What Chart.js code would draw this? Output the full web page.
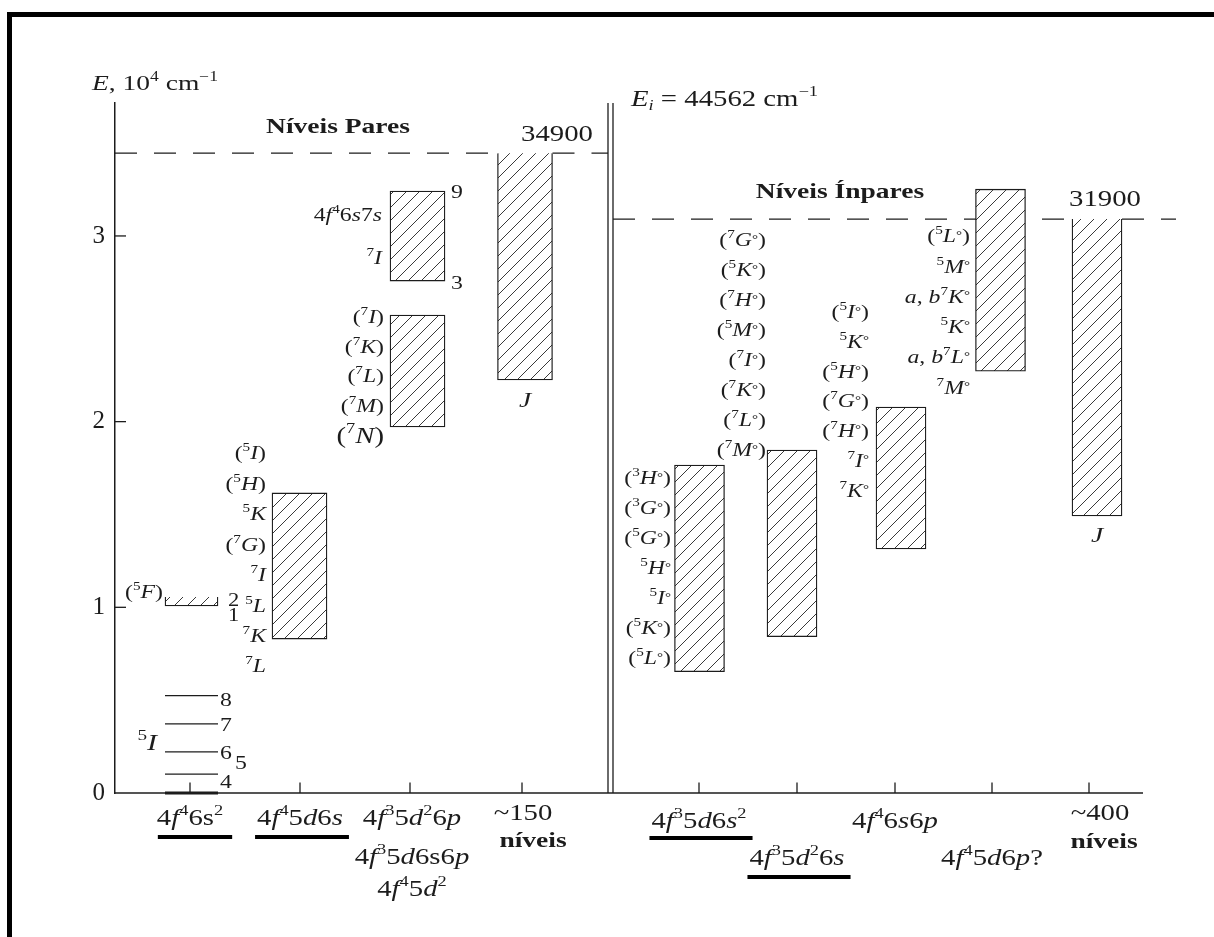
<!DOCTYPE html>
<html>
<head>
<meta charset="utf-8">
<title>Níveis de energia</title>
<script src="https://cdn.jsdelivr.net/npm/chart.js@4.4.1/dist/chart.umd.min.js"></script>
<style>
  html, body { margin: 0; padding: 0; background: #fff; }
  #wrap { width: 1214px; height: 937px; position: relative; }
</style>
</head>
<body>
<div id="wrap"><canvas id="chart"></canvas></div>
<script>
// energias em 10^4 cm^-1
const yTicks = [0, 1, 2, 3];
const tickPares = [0.75, 1.85, 2.95, 4.07];
const tickImpares = [5.84, 6.82, 7.80, 8.77, 9.74];
const limitePares = 3.446;   // 34900
const limiteImpares = 3.091; // 31900

// termo fundamental 5I (J = 4..8) e banda 5F
const niveis5I = [0, 0.102, 0.221, 0.372, 0.524];
const J5I = ['4', '5', '6', '7', '8'];
const vao5I = [0.50, 1.03];
const banda5F = [1.007, 1.055];

// caixas hachuradas: posição, energia mínima e máxima
const caixaXPares = [1.845, 3.025, 3.025, 4.10];
const caixaMinPares = [0.829, 2.757, 1.971, 2.224];
const caixaMaxPares = [1.616, 3.242, 2.574, 3.446];
const caixaXImpares = [5.845, 6.77, 7.86, 8.855, 9.82];
const caixaMinImpares = [0.653, 0.842, 1.314, 2.272, 1.492];
const caixaMaxImpares = [1.766, 1.847, 2.079, 3.252, 3.091];

// configurações (abaixo do eixo)
const configPares = [['4|f|^4^6s^2^'], ['4|f|^4^5|d|6|s|'],
  ['4|f|^3^5|d|^2^6|p|', '4|f|^3^5|d|6s6|p|', '4|f|^4^5|d|^2^'], ['~150', 'níveis']];
const configImpares = [['4|f|^3^5|d|6|s|^2^'], ['4|f|^3^5|d|^2^6|s|'], ['4|f|^4^6|s|6|p|'],
  ['4|f|^4^5|d|6|p|?'], ['~400', 'níveis']];

// termos escritos ao lado das caixas
const termosCol2 = ['(^5^|I|)', '(^5^|H|)', '^5^|K|', '(^7^|G|)', '^7^|I|', '^5^|L|', '^7^|K|', '^7^|L|'];
const termos6s7s = ['4|f|^4^6|s|7|s|', '^7^|I|'];
const J6s7s = ['9', '3'];
const termosCol3 = ['(^7^|I|)', '(^7^|K|)', '(^7^|L|)', '(^7^|M|)', '(^7^|N|)'];
const termosR1 = ['(^3^|H|^°^)', '(^3^|G|^°^)', '(^5^|G|^°^)', '^5^|H|^°^', '^5^|I|^°^', '(^5^|K|^°^)', '(^5^|L|^°^)'];
const termosR2 = ['(^7^|G|^°^)', '(^5^|K|^°^)', '(^7^|H|^°^)', '(^5^|M|^°^)', '(^7^|I|^°^)', '(^7^|K|^°^)', '(^7^|L|^°^)', '(^7^|M|^°^)'];
const termosR3 = ['(^5^|I|^°^)', '^5^|K|^°^', '(^5^|H|^°^)', '(^7^|G|^°^)', '(^7^|H|^°^)', '^7^|I|^°^', '^7^|K|^°^'];
const termosR4 = ['(^5^|L|^°^)', '^5^|M|^°^', '|a|, |b|^7^|K|^°^', '^5^|K|^°^', '|a|, |b|^7^|L|^°^', '^7^|M|^°^'];

const INK = '#1c1c1c';
const SX = 1.25; // o texto da figura é levemente esticado na horizontal
const FONT = '"Liberation Serif", "Times New Roman", serif';
const LARG_PARES = 55, LARG_IMPARES = 50; // largura das caixas, px
const PX_UNID = 100; // px por unidade no eixo x (1061 px / 10.61)

function hachura() {
  const s = 13;
  const c = document.createElement('canvas');
  c.width = s; c.height = s;
  const g = c.getContext('2d');
  g.fillStyle = '#fff';
  g.fillRect(0, 0, s, s);
  g.strokeStyle = '#3a3a3a';
  g.lineWidth = 1;
  g.beginPath();
  g.moveTo(-2, s + 2); g.lineTo(s + 2, -2);
  g.moveTo(-2, 2); g.lineTo(2, -2);
  g.moveTo(s - 2, s + 2); g.lineTo(s + 2, s - 2);
  g.stroke();
  return g.createPattern(c, 'repeat');
}
const HATCH = hachura();

// ^sobrescrito^  _subscrito_  |itálico|
function parseRich(str) {
  const runs = [];
  let sup = false, sub = false, it = false, buf = '';
  const push = () => { if (buf) runs.push({ t: buf, sup, sub, it }); buf = ''; };
  for (const ch of str) {
    if (ch === '^') { push(); sup = !sup; }
    else if (ch === '_') { push(); sub = !sub; }
    else if (ch === '|') { push(); it = !it; }
    else buf += ch;
  }
  push();
  return runs;
}

function drawRich(ctx, str, x, y, size, align, bold) {
  const runs = parseRich(str);
  const fontOf = r => (r.it ? 'italic ' : '') + (bold ? 'bold ' : '') +
    ((r.sup || r.sub) ? size * 0.64 : size) + 'px ' + FONT;
  let w = 0;
  for (const r of runs) { ctx.font = fontOf(r); r.w = ctx.measureText(r.t).width; w += r.w; }
  ctx.save();
  ctx.translate(x, y + size * 0.33);
  ctx.scale(SX, 1);
  ctx.fillStyle = INK;
  ctx.textBaseline = 'alphabetic';
  ctx.textAlign = 'left';
  let cx = align === 'right' ? -w : align === 'center' ? -w / 2 : 0;
  for (const r of runs) {
    ctx.font = fontOf(r);
    let dy = 0;
    if (r.sup) dy = r.t === '°' ? -size * 0.2 : -size * 0.42;
    if (r.sub) dy = size * 0.2;
    ctx.fillText(r.t, cx, dy);
    cx += r.w;
  }
  ctx.restore();
  return w * SX;
}

function seg(x0, y0, x1, y1, extra) {
  return Object.assign({
    type: 'line',
    data: [{ x: x0, y: y0 }, { x: x1, y: y1 }],
    borderColor: INK, borderWidth: 1.3,
    pointRadius: 0, fill: false, clip: false, order: 1
  }, extra || {});
}

function caixa(x, lo, hi, largura, semTopo) {
  return {
    type: 'bar',
    data: [{ x: x, y: [lo, hi] }],
    backgroundColor: HATCH, borderColor: INK, borderWidth: 1.3,
    borderSkipped: semTopo ? 'top' : false,
    barThickness: largura, grouped: false, order: 2
  };
}

// linha tracejada interrompida onde uma caixa encosta nela por baixo
function tracejada(x0, x1, e, xs, maxs, largura) {
  const pts = [{ x: x0, y: e }];
  xs.forEach((x, i) => {
    if (maxs[i] !== e) return;
    const h = largura / 2 / PX_UNID;
    pts.push({ x: x - h, y: e }, { x: x, y: null }, { x: x + h, y: e });
  });
  pts.push({ x: x1, y: e });
  return {
    type: 'line', data: pts, borderColor: INK, borderWidth: 1.3,
    borderDash: [22, 17], pointRadius: 0, fill: false, clip: false,
    spanGaps: false, order: 3
  };
}

const datasets = [];
const yTopo = 3.716;
const xFim = 10.61;

datasets.push(tracejada(0, 4.93, limitePares, caixaXPares, caixaMaxPares, LARG_PARES));
datasets.push(tracejada(4.98, xFim, limiteImpares, caixaXImpares, caixaMaxImpares, LARG_IMPARES));

// eixos, linha dupla e marcas
datasets.push(seg(0, 0, 10.28, 0, { borderWidth: 1.5 }));
datasets.push(seg(4.93, 0, 4.93, yTopo));
datasets.push(seg(4.98, 0, 4.98, yTopo));
yTicks.slice(1).forEach(v => datasets.push(seg(0, v, 0.11, v)));
tickPares.concat(tickImpares).forEach(t => datasets.push(seg(t, 0, t, 0.057)));

// níveis 5I
niveis5I.forEach((e, i) => datasets.push(seg(vao5I[0], e, vao5I[1], e, { borderWidth: i === 0 ? 3.2 : 1.3 })));
// banda 5F
datasets.push(caixa((vao5I[0] + vao5I[1]) / 2, banda5F[0], banda5F[1], (vao5I[1] - vao5I[0]) * PX_UNID, true));

caixaXPares.forEach((x, i) => datasets.push(
  caixa(x, caixaMinPares[i], caixaMaxPares[i], LARG_PARES, caixaMaxPares[i] === limitePares)));
caixaXImpares.forEach((x, i) => datasets.push(
  caixa(x, caixaMinImpares[i], caixaMaxImpares[i], LARG_IMPARES, caixaMaxImpares[i] === limiteImpares)));

const grupos = [
  { termos: termosCol2, x: 1.51, y0: 1.831, dy: 0.164 },
  { termos: termos6s7s, x: 2.67, y0: 3.113, dy: 0.232 },
  { termos: termosCol3, x: 2.69, y0: 2.563, dy: 0.159, grande: 4 },
  { termos: termosR1, x: 5.56, y0: 1.696, dy: 0.1616 },
  { termos: termosR2, x: 6.51, y0: 2.978, dy: 0.1616 },
  { termos: termosR3, x: 7.54, y0: 2.590, dy: 0.160 },
  { termos: termosR4, x: 8.55, y0: 2.999, dy: 0.163 }
];

const textos = {
  id: 'textos',
  afterDraw(chart) {
    const ctx = chart.ctx;
    const X = v => chart.scales.x.getPixelForValue(v);
    const Y = v => chart.scales.y.getPixelForValue(v);

    // moldura
    ctx.save();
    ctx.fillStyle = '#000';
    ctx.fillRect(7, 12, 5, 925);
    ctx.fillRect(7, 12, 1207, 5);
    ctx.restore();

    drawRich(ctx, '|E|, 10^4^ cm^−1^', X(-0.23), Y(3.823), 22, 'left');
    drawRich(ctx, '|E|_|i|_ = 44562 cm^−1^', X(5.16), Y(3.743), 23, 'left');
    drawRich(ctx, 'Níveis Pares', X(2.23), Y(3.592), 22, 'center', true);
    drawRich(ctx, 'Níveis Ínpares', X(7.25), Y(3.242), 22, 'center', true);

    // limites
    const c4 = X(caixaXPares[3]);
    drawRich(ctx, '34900', c4 + 32, Y(limitePares) - 20, 23, 'center');
    drawRich(ctx, '|J|', c4, Y(caixaMinPares[3]) + 20, 22, 'center');
    const c5 = X(caixaXImpares[4]);
    drawRich(ctx, '31900', c5 + 8, Y(limiteImpares) - 21, 23, 'center');
    drawRich(ctx, '|J|', c5, Y(caixaMinImpares[4]) + 19, 22, 'center');

    // 5I e 5F
    const xd = X(vao5I[1]);
    const desloc = [[2, -11], [17, -11], [2, 1], [2, 1], [2, 4]];
    J5I.forEach((j, i) => drawRich(ctx, j, xd + desloc[i][0], Y(niveis5I[i]) + desloc[i][1], 19, 'left'));
    drawRich(ctx, '^5^|I|', X(0.42), Y(0.275), 24, 'right');
    const yb = Y(banda5F[0]);
    drawRich(ctx, '(^5^|F|)', X(vao5I[0]) - 2, yb - 14, 19, 'right');
    drawRich(ctx, '2', xd + 10, yb - 6, 18, 'left');
    drawRich(ctx, '1', xd + 10, yb + 9, 18, 'left');

    // J da caixa 4f46s7s
    const xr = X(caixaXPares[1]) + LARG_PARES / 2 + 6;
    drawRich(ctx, J6s7s[0], xr, Y(caixaMaxPares[1]) + 1, 19, 'left');
    drawRich(ctx, J6s7s[1], xr, Y(caixaMinPares[1]) + 2, 19, 'left');

    // termos
    for (const g of grupos) {
      g.termos.forEach((t, i) => drawRich(ctx, t, X(g.x), Y(g.y0 - i * g.dy),
        g.grande === i ? 23 : 19, 'right'));
    }

    // configurações abaixo do eixo
    const y0 = Y(0);
    const sublinha = (cx, cy, w) => { ctx.fillStyle = '#000'; ctx.fillRect(cx - w / 2 - 2, cy, w + 8, 4); };
    let w = drawRich(ctx, configPares[0][0], X(tickPares[0]), y0 + 24, 23, 'center');
    sublinha(X(tickPares[0]) + 3, y0 + 42, w);
    w = drawRich(ctx, configPares[1][0], X(tickPares[1]), y0 + 24, 23, 'center');
    sublinha(X(tickPares[1]), y0 + 42, w);
    const linhas3 = [24, 63, 95];
    configPares[2].forEach((t, i) => drawRich(ctx, t, X(tickPares[2]) + 2, y0 + linhas3[i], 23, 'center'));
    drawRich(ctx, configPares[3][0], X(tickPares[3]) + 1, y0 + 19, 23, 'center');
    drawRich(ctx, configPares[3][1], X(tickPares[3]) + 11, y0 + 47, 22, 'center', true);

    w = drawRich(ctx, configImpares[0][0], X(tickImpares[0]), y0 + 27, 23, 'center');
    sublinha(X(tickImpares[0]), y0 + 43, w);
    w = drawRich(ctx, configImpares[1][0], X(tickImpares[1]), y0 + 64, 23, 'center');
    sublinha(X(tickImpares[1]), y0 + 82, w);
    drawRich(ctx, configImpares[2][0], X(tickImpares[2]), y0 + 27, 23, 'center');
    drawRich(ctx, configImpares[3][0], X(tickImpares[3]), y0 + 64, 23, 'center');
    drawRich(ctx, configImpares[4][0], X(tickImpares[4]) + 11, y0 + 19, 23, 'center');
    drawRich(ctx, configImpares[4][1], X(tickImpares[4]) + 15, y0 + 48, 22, 'center', true);
  }
};

new Chart(document.getElementById('chart'), {
  type: 'bar',
  data: { datasets },
  options: {
    responsive: true,
    maintainAspectRatio: false,
    animation: false,
    events: [],
    layout: { padding: { top: 103, right: 38, bottom: 144, left: 0 } },
    plugins: { legend: { display: false }, tooltip: { enabled: false } },
    scales: {
      x: { type: 'linear', min: 0, max: xFim, offset: false, display: false },
      y: {
        type: 'linear', min: 0, max: yTopo,
        afterBuildTicks: s => { s.ticks = yTicks.map(v => ({ value: v })); },
        afterFit: s => { s.width = 115; },
        grid: { display: false, drawTicks: false },
        border: { display: true, color: INK, width: 1.5 },
        ticks: { color: INK, padding: 10, font: { family: 'Liberation Serif', size: 25 } }
      }
    }
  },
  plugins: [textos]
});
</script>
</body>
</html>
